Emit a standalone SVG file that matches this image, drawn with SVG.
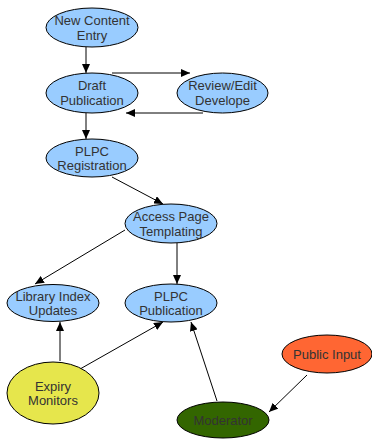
<svg xmlns="http://www.w3.org/2000/svg" width="372" height="443" viewBox="0 0 372 443">
<style>
.n{stroke:#000;stroke-width:1}
.b{fill:#99ccff}
.t{font-family:"Liberation Sans",Arial,sans-serif;font-size:13px;fill:#333;text-anchor:middle}
.c line{stroke:#000;stroke-width:1;marker-end:url(#ah)}
</style>
<defs>
<marker id="ah" markerUnits="userSpaceOnUse" markerWidth="10" markerHeight="8" refX="9" refY="4" orient="auto">
<path d="M0,0 L9,4 L0,8 z" fill="#000"/>
</marker>
</defs>
<rect width="372" height="443" fill="#fff"/>
<g class="c" id="connectors">
<line x1="86" y1="47" x2="86" y2="73"/>
<line x1="112" y1="73" x2="190" y2="73"/>
<line x1="203" y1="113" x2="126" y2="113"/>
<line x1="86" y1="113" x2="86" y2="139"/>
<line x1="112" y1="177" x2="163" y2="204"/>
<line x1="125" y1="230" x2="35" y2="284"/>
<line x1="177" y1="243" x2="177" y2="284"/>
<line x1="60" y1="361" x2="60" y2="322"/>
<line x1="73" y1="373" x2="163" y2="322"/>
<line x1="217" y1="401" x2="191" y2="322"/>
<line x1="307" y1="375" x2="269" y2="412"/>
</g>
<g id="new-content-entry">
<ellipse class="n b" cx="92" cy="27.5" rx="46" ry="19.5"/>
<text class="t" x="92" y="25">New Content</text>
<text class="t" x="92" y="39.5">Entry</text>
</g>
<g id="draft-publication">
<ellipse class="n b" cx="92" cy="93" rx="46" ry="20"/>
<text class="t" x="92" y="90">Draft</text>
<text class="t" x="92" y="105">Publication</text>
</g>
<g id="review-edit">
<ellipse class="n b" cx="222.5" cy="93" rx="45.5" ry="20"/>
<text class="t" x="222.5" y="90">Review/Edit</text>
<text class="t" x="222.5" y="105">Develope</text>
</g>
<g id="plpc-registration">
<ellipse class="n b" cx="92" cy="158" rx="46" ry="19"/>
<text class="t" x="92" y="155.5">PLPC</text>
<text class="t" x="92" y="170">Registration</text>
</g>
<g id="access-page-templating">
<ellipse class="n b" cx="171" cy="223.5" rx="46" ry="19.5"/>
<text class="t" x="171" y="221">Access Page</text>
<text class="t" x="171" y="235.5">Templating</text>
</g>
<g id="library-index-updates">
<ellipse class="n b" cx="53" cy="303" rx="46" ry="18.5"/>
<text class="t" x="53" y="300.5">Library Index</text>
<text class="t" x="53" y="315">Updates</text>
</g>
<g id="plpc-publication">
<ellipse class="n b" cx="171" cy="303" rx="46" ry="19"/>
<text class="t" x="171" y="300.5">PLPC</text>
<text class="t" x="171" y="315">Publication</text>
</g>
<g id="expiry-monitors">
<ellipse class="n" fill="#e6e64c" cx="53" cy="393" rx="46" ry="31"/>
<text class="t" x="53" y="391">Expiry</text>
<text class="t" x="53" y="405">Monitors</text>
</g>
<g id="public-input">
<ellipse class="n" fill="#ff6633" cx="327" cy="354" rx="45" ry="19"/>
<text class="t" x="327" y="358.5">Public Input</text>
</g>
<g id="moderator">
<ellipse class="n" fill="#336600" cx="223" cy="420" rx="46" ry="18"/>
<text class="t" x="223" y="424.5">Moderator</text>
</g>
</svg>
